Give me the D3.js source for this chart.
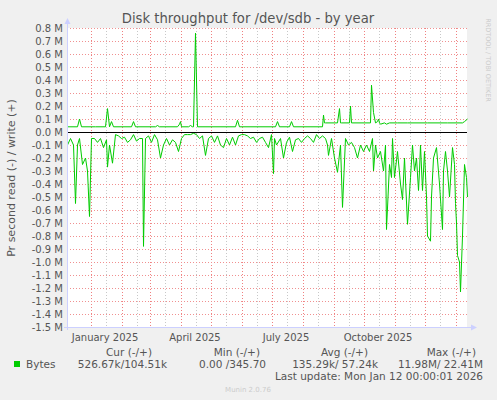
<!DOCTYPE html>
<html><head><meta charset="utf-8">
<script src="https://cdn.jsdelivr.net/npm/d3@7/dist/d3.min.js"></script>
<style>body{margin:0;background:#f0f0f0}text{font-family:"DejaVu Sans",sans-serif}</style>
</head><body><svg id="c" width="497" height="400"></svg>
<script>
const startDate = "2024-12-08";
const endDate = "2026-01-12";
const yTicks = [0.8,0.7,0.6,0.5,0.4,0.3,0.2,0.1,0,-0.1,-0.2,-0.3,-0.4,-0.5,-0.6,-0.7,-0.8,-0.9,-1.0,-1.1,-1.2,-1.3,-1.4,-1.5];
const monthLabels = ["January 2025","April 2025","July 2025","October 2025"];
// write (+), M bytes/s; day offsets from startDate
const writeDays = [0,10,12,14,28,38,40,42,44,46,64,66,68,88,90,92,110,112,113,114,121,123,125,126,128,130,168,170,172,208,210,212,222,224,226,255,256,257,258,270,272,273,274,282,283,284,303,304,306,308,310,311,312,313,317,319,322,330,340,360,380,395,397,400];
const writeVals = [0.04,0.04,0.1,0.04,0.04,0.04,0.18,0.04,0.08,0.04,0.04,0.08,0.04,0.04,0.05,0.04,0.04,0.06,0.08,0.04,0.04,0.05,0.04,0.04,0.76,0.04,0.04,0.09,0.04,0.04,0.08,0.04,0.04,0.08,0.04,0.04,0.13,0.07,0.07,0.07,0.18,0.07,0.07,0.07,0.2,0.07,0.07,0.36,0.15,0.07,0.08,0.1,0.07,0.06,0.07,0.06,0.07,0.07,0.07,0.07,0.07,0.07,0.08,0.1];
// read (-), M bytes/s
const readDays = [0,3,6,8,10,12,15,18,20,22,24,27,30,33,36,39,40,42,45,48,51,54,57,60,63,66,69,72,75,76,78,81,84,87,90,93,96,99,102,105,108,111,114,117,120,123,126,129,132,135,138,141,144,147,150,153,156,159,162,165,168,171,174,177,180,183,186,189,192,195,198,201,204,206,207,209,213,216,219,222,225,228,231,234,237,240,243,246,249,252,255,258,260,261,264,267,270,273,275,278,281,284,287,290,293,296,299,302,305,306,308,310,313,316,318,319,322,324,325,327,330,333,335,337,340,343,345,347,349,351,352,353,355,357,359,360,363,364,366,369,372,375,376,378,380,382,385,387,388,389,390,392,393,395,397,398,399,400];
const readVals = [-0.1,-0.05,-0.1,-0.55,-0.1,-0.05,-0.25,-0.2,-0.3,-0.65,-0.05,-0.05,-0.08,-0.05,-0.12,-0.06,-0.27,-0.1,-0.24,-0.02,-0.03,-0.05,-0.04,-0.08,-0.06,-0.02,-0.07,-0.05,-0.05,-0.88,-0.05,-0.03,-0.08,-0.02,-0.06,-0.2,-0.1,-0.05,-0.1,-0.06,-0.08,-0.15,-0.05,-0.02,-0.02,-0.02,-0.01,-0.02,-0.05,-0.03,-0.18,-0.05,-0.03,-0.08,-0.03,-0.1,-0.12,-0.05,-0.1,-0.04,-0.1,-0.03,-0.02,-0.02,-0.03,-0.05,-0.04,-0.08,-0.05,-0.04,-0.08,-0.12,-0.02,-0.32,-0.05,-0.1,-0.05,-0.2,-0.08,-0.04,-0.15,-0.06,-0.05,-0.08,-0.05,-0.03,-0.05,-0.08,-0.02,-0.05,-0.03,-0.05,-0.1,-0.18,-0.05,-0.2,-0.31,-0.1,-0.58,-0.05,-0.1,-0.08,-0.12,-0.2,-0.1,-0.15,-0.1,-0.15,-0.05,-0.3,-0.1,-0.2,-0.15,-0.3,-0.1,-0.75,-0.25,-0.35,-0.05,-0.35,-0.15,-0.4,-0.52,-0.2,-0.71,-0.35,-0.1,-0.3,-0.2,-0.45,-0.3,-0.1,-0.45,-0.15,-0.5,-0.8,-0.84,-0.5,-0.2,-0.12,-0.4,-0.75,-0.3,-0.15,-0.3,-0.5,-0.12,-0.25,-0.55,-0.7,-0.95,-1.0,-1.23,-0.8,-0.25,-0.3,-0.35,-0.5];

const svg = d3.select("#c");
const L=67,R=467,T=28,B=327;
const parse=d3.utcParse("%Y-%m-%d");
const t0=parse(startDate), t1=parse(endDate);
const day=d=>d3.utcDay.offset(t0,d);
const x=d3.scaleUtc().domain([t0,t1]).range([L,R]);
const y=d3.scaleLinear().domain([-1.5,0.8]).range([B,T]);
svg.append("rect").attr("x",L).attr("y",T).attr("width",R-L).attr("height",B-T).attr("fill","#fff");
const g=svg.append("g");
d3.utcMonth.range(t0,t1).forEach(m=>{
  const mid=d3.utcDay.offset(m,15);
  if(mid>t0&&mid<t1) g.append("line").attr("x1",Math.round(x(mid))+.5).attr("x2",Math.round(x(mid))+.5).attr("y1",T).attr("y2",B).attr("stroke","#c8c8c8").attr("stroke-dasharray","1,2");
  if(m>t0) g.append("line").attr("x1",Math.round(x(m))+.5).attr("x2",Math.round(x(m))+.5).attr("y1",T).attr("y2",B).attr("stroke","#f08080").attr("stroke-dasharray","1,2");
});
yTicks.forEach(v=>{
  g.append("line").attr("x1",L).attr("x2",R).attr("y1",Math.round(y(v))+.5).attr("y2",Math.round(y(v))+.5).attr("stroke","#f09090").attr("stroke-dasharray","1,2");
  svg.append("text").attr("x",63).attr("y",y(v)+3.5).attr("text-anchor","end").attr("font-size",10).attr("fill","#555").text(v.toFixed(1)+" M");
});
[0,3,6,9].forEach((mo,i)=>{
  const d=new Date(Date.UTC(2025,mo,15));
  svg.append("text").attr("x",x(d)).attr("y",341).attr("text-anchor","middle").attr("font-size",10).attr("fill","#555").text(monthLabels[i]);
});
const line=d3.line().x(d=>Math.round(x(day(d[0])))+.5).y(d=>y(d[1]));
svg.append("path").attr("d",line(readDays.map((d,i)=>[d,readVals[i]]))).attr("fill","none").attr("stroke","#00cc00").attr("stroke-width",1);
svg.append("line").attr("x1",L).attr("x2",R).attr("y1",Math.round(y(0))+.5).attr("y2",Math.round(y(0))+.5).attr("stroke","#000");
svg.append("path").attr("d",line(writeDays.map((d,i)=>[d,writeVals[i]]))).attr("fill","none").attr("stroke","#00cc00").attr("stroke-width",1);
svg.append("line").attr("x1",L+.5).attr("x2",L+.5).attr("y1",B+3).attr("y2",T-6).attr("stroke","#ccd0ff");
svg.append("line").attr("x1",L-3).attr("x2",R+6).attr("y1",B+.5).attr("y2",B+.5).attr("stroke","#ccd0ff");
svg.append("path").attr("d",`M${L-2.5},${T-4}L${L+3.5},${T-4}L${L+.5},${T-10}Z`).attr("fill","#ccd0ff");
svg.append("path").attr("d",`M${R+4},${B-2.5}L${R+4},${B+3.5}L${R+10},${B+.5}Z`).attr("fill","#ccd0ff");
svg.append("text").attr("x",248).attr("y",23).attr("text-anchor","middle").attr("font-size",13.2).attr("fill","#555").text("Disk throughput for /dev/sdb - by year");
svg.append("text").attr("transform","translate(15,178) rotate(-90)").attr("text-anchor","middle").attr("font-size",11).attr("fill","#555").text("Pr second read (-) / write (+)");
svg.append("text").attr("transform","translate(486,60) rotate(90)").attr("text-anchor","middle").attr("font-size",6.5).attr("fill","#ccc").text("RRDTOOL / TOBI OETIKER");
const mono=(xx,yy,s,anchor)=>svg.append("text").attr("x",xx).attr("y",yy).attr("font-family","DejaVu Sans Mono,monospace").attr("font-size",10.5).attr("fill","#555").attr("text-anchor",anchor||"start").attr("xml:space","preserve").text(s);
mono(152,356,"Cur (-/+)","end");mono(260,356,"Min (-/+)","end");mono(368,356,"Avg (-/+)","end");mono(476,356,"Max (-/+)","end");
svg.append("rect").attr("x",14).attr("y",361).attr("width",6).attr("height",6).attr("fill","#00cc00");
mono(26,368,"Bytes");
mono(167,368,"526.67k/104.51k","end");mono(266,368,"0.00 /345.70","end");mono(378,368,"135.29k/ 57.24k","end");mono(483,368,"11.98M/ 22.41M","end");
mono(483,380,"Last update: Mon Jan 12 00:00:01 2026","end");
svg.append("text").attr("x",248).attr("y",392).attr("text-anchor","middle").attr("font-size",7).attr("fill","#ccc").text("Munin 2.0.76");
</script></body></html>
